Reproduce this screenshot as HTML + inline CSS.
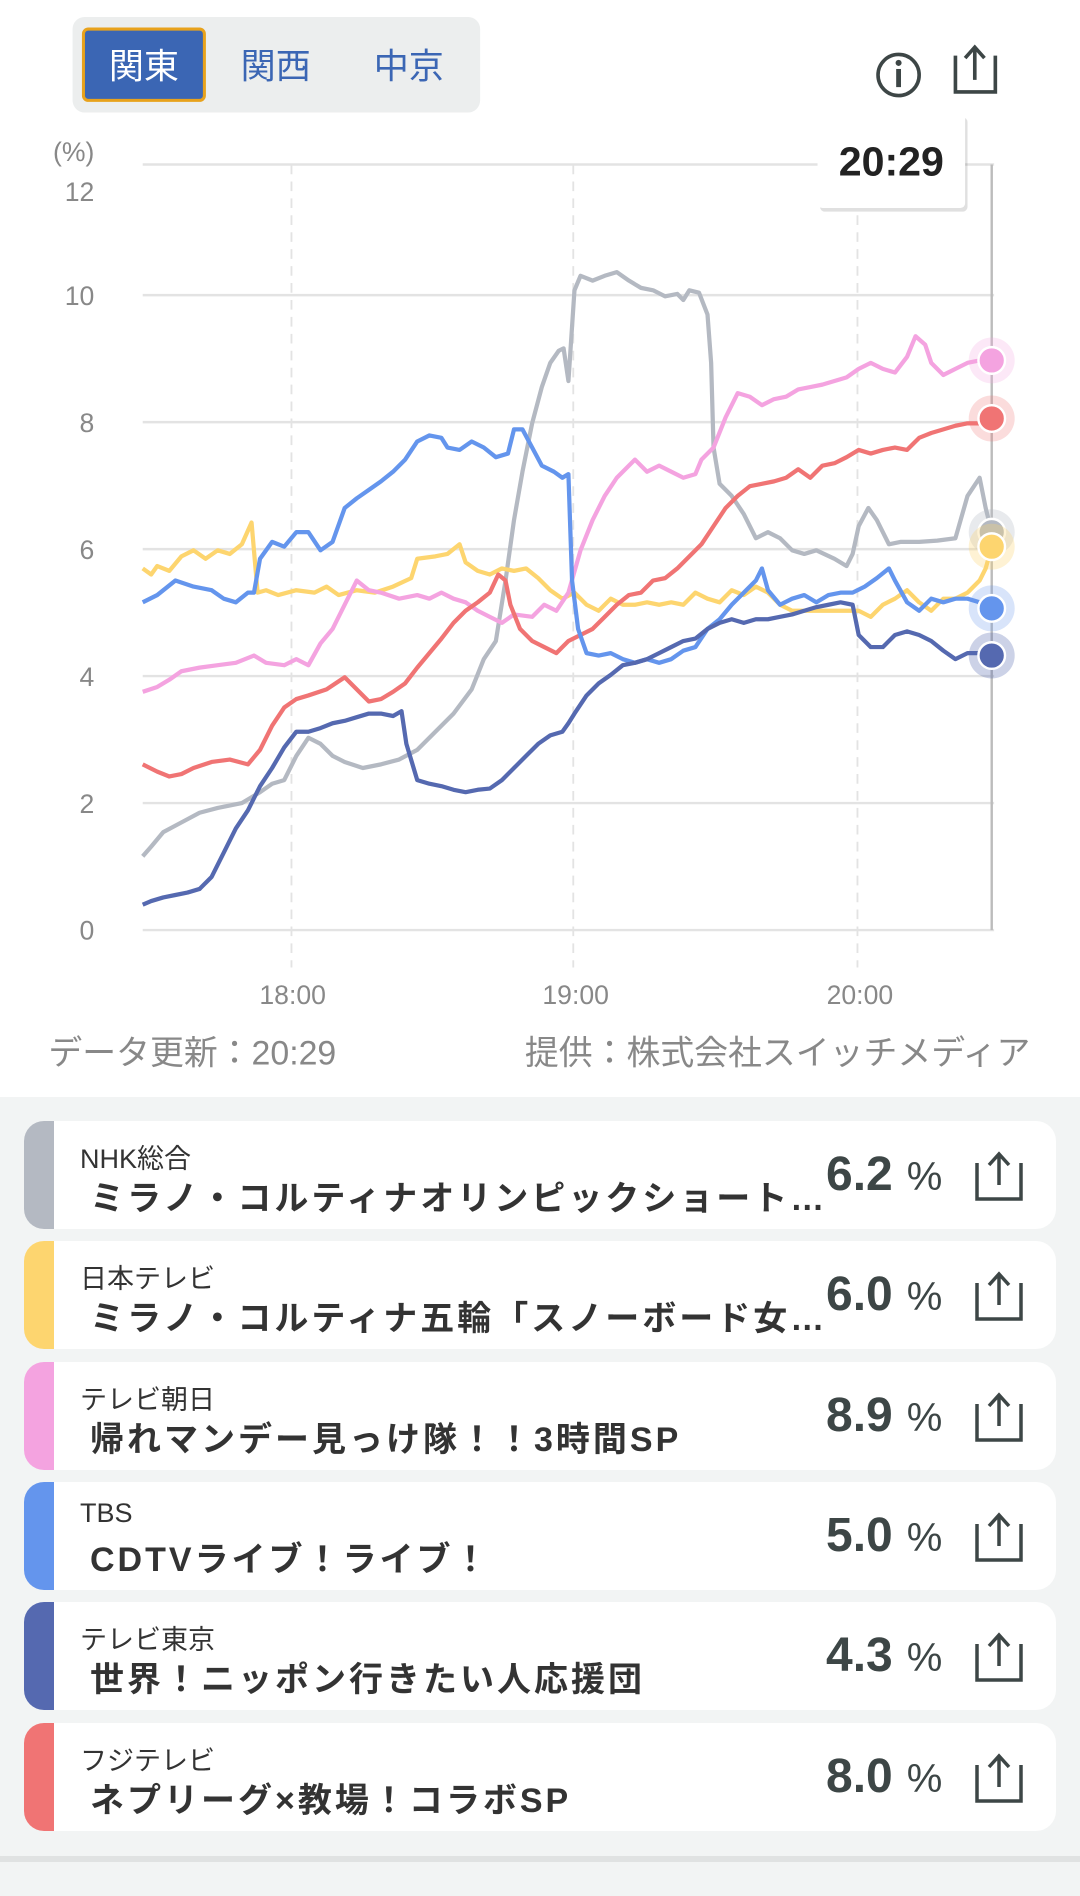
<!DOCTYPE html>
<html><head><meta charset="utf-8"><style>
body{margin:0;width:1080px;height:1896px;background:#f2f4f4;font-family:"Liberation Sans","Noto Sans CJK JP",sans-serif;overflow:hidden;position:relative}
.top{position:absolute;left:0;top:0;width:1080px;height:1097px;background:#fff}
.card{position:absolute;left:24px;width:1032px;height:108px;background:#fff;border-radius:20px;overflow:hidden}
.bar{position:absolute;left:0;top:0;bottom:0;width:30px}
.ch{position:absolute;left:56px;top:16px;font-size:27px;color:#333}
.ti{position:absolute;left:66px;top:50px;font-size:34px;font-weight:bold;color:#333;letter-spacing:3px;white-space:nowrap}
.pc{position:absolute;left:802px;top:26px;font-size:48px;font-weight:bold;color:#3d4646}
.pc span{font-size:40px;font-weight:normal;margin-left:14px}
.ic{position:absolute;left:948px;top:30px}
</style></head><body>
<div class="top">
<svg width="1080" height="1097" viewBox="0 0 893 907" xmlns="http://www.w3.org/2000/svg" font-family="Liberation Sans, Noto Sans CJK JP, sans-serif">
<rect x="60" y="14" width="337" height="79" rx="10" fill="#eceeee"/>
<rect x="69" y="24" width="100" height="59" rx="4" fill="#3b66b4" stroke="#e8a21c" stroke-width="2.5"/>
<text x="119" y="65" font-size="29" fill="#fff" text-anchor="middle">関東</text>
<text x="228" y="65" font-size="29" fill="#3b66b4" text-anchor="middle">関西</text>
<text x="338" y="65" font-size="29" fill="#3b66b4" text-anchor="middle">中京</text>
<circle cx="743" cy="62" r="17" fill="none" stroke="#3d4646" stroke-width="3"/>
<circle cx="743" cy="52" r="2.5" fill="#3d4646"/><rect x="741" y="57" width="4" height="15" fill="#3d4646"/>
<path d="M790 46 v30 h33 v-30" fill="none" stroke="#3d4646" stroke-width="3"/>
<path d="M806 66 v-26 M798 48 l8 -9 l8 9" fill="none" stroke="#3d4646" stroke-width="3"/>
<g stroke="#e3e3e3" stroke-width="2">
<line x1="118" y1="136" x2="822" y2="136"/><line x1="118" y1="244" x2="822" y2="244"/><line x1="118" y1="349" x2="822" y2="349"/><line x1="118" y1="454" x2="822" y2="454"/><line x1="118" y1="559" x2="822" y2="559"/><line x1="118" y1="664" x2="822" y2="664"/><line x1="118" y1="769" x2="822" y2="769"/>
</g>
<g stroke="#e3e3e3" stroke-width="1.5" stroke-dasharray="8,6">
<line x1="241" y1="136" x2="241" y2="800"/><line x1="474" y1="136" x2="474" y2="800"/><line x1="709" y1="136" x2="709" y2="800"/>
</g>
<line x1="820" y1="136" x2="820" y2="769" stroke="#bcbcbc" stroke-width="2"/>
<g font-size="22" fill="#888" text-anchor="end">
<text x="78" y="133">(%)</text><text x="78" y="166">12</text><text x="78" y="252">10</text><text x="78" y="357">8</text><text x="78" y="462">6</text><text x="78" y="567">4</text><text x="78" y="672">2</text><text x="78" y="777">0</text>
</g>
<g font-size="22" fill="#888" text-anchor="middle">
<text x="242" y="830">18:00</text><text x="476" y="830">19:00</text><text x="711" y="830">20:00</text>
</g>
<text x="40" y="880" font-size="28" fill="#888">データ更新：20:29</text>
<text x="852" y="880" font-size="28" fill="#888" text-anchor="end">提供：株式会社スイッチメディア</text>
<g fill="none" stroke-width="3.5" stroke-linejoin="round">
<polyline stroke="#b4b9c2" points="118,708 125,700 135,688 150,680 165,672 180,668 200,664 215,655 225,648 235,645 245,625 255,610 265,615 275,625 285,630 300,635 315,632 330,628 345,620 360,605 375,590 390,570 400,545 410,530 418,480 425,430 432,390 440,350 448,320 455,300 462,290 466,288 470,315 475,240 480,228 490,232 500,228 510,225 520,232 530,238 540,240 550,245 560,243 565,248 570,240 578,242 585,260 588,300 590,370 595,400 605,410 615,425 625,445 635,440 645,445 655,455 665,458 675,455 690,462 700,468 705,458 710,435 718,420 725,430 735,450 745,448 760,448 775,447 790,445 800,410 810,395 815,420 820,440"/>
<polyline stroke="#fdd56f" points="118,470 125,475 130,468 140,472 150,460 160,455 170,462 180,455 190,458 200,450 208,432 213,490 220,488 230,492 245,488 260,490 270,485 280,492 295,488 310,490 325,485 340,478 345,462 360,460 370,458 380,450 385,465 395,472 405,475 415,470 425,472 435,470 445,478 455,488 465,495 475,490 485,500 495,505 505,495 515,500 525,500 535,498 545,500 555,498 565,500 575,490 585,495 595,498 605,488 615,492 625,485 635,490 645,500 655,505 665,505 675,505 690,505 700,505 710,505 720,510 730,500 740,495 750,488 760,498 770,505 780,495 790,495 800,490 810,480 815,470 820,452"/>
<polyline stroke="#f4a3e0" points="118,572 130,568 140,562 150,555 165,552 180,550 195,548 210,542 220,548 235,550 245,545 255,550 265,532 275,520 285,500 295,480 305,488 315,490 330,495 345,492 355,495 365,490 375,495 385,498 395,505 405,510 415,515 425,508 440,510 450,500 460,505 470,490 480,455 490,430 500,410 510,395 520,385 525,380 535,390 545,385 555,390 565,395 575,392 580,380 590,370 600,345 610,325 620,328 630,335 640,330 650,328 660,322 670,320 680,318 690,315 700,312 710,305 720,300 730,305 740,308 750,295 757,278 765,285 770,300 780,310 790,305 800,300 810,298 820,298"/>
<polyline stroke="#f07474" points="118,632 130,638 140,642 150,640 160,635 175,630 190,628 205,632 215,620 225,600 235,585 245,578 255,575 270,570 285,560 295,570 305,580 315,578 325,572 335,565 345,552 355,540 365,528 375,515 385,505 395,498 405,490 412,475 418,480 422,500 430,520 440,530 450,535 460,540 470,530 480,525 490,520 500,510 510,500 520,492 530,490 540,480 550,478 560,470 570,460 580,450 590,435 600,420 610,410 620,402 630,400 640,398 650,395 660,388 670,395 680,385 690,383 700,378 710,372 720,375 730,372 740,370 750,372 760,362 770,358 780,355 790,352 800,350 810,350 820,345"/>
<polyline stroke="#6495ed" points="118,498 130,492 145,480 160,485 175,488 185,495 195,498 205,490 210,490 215,462 225,448 235,452 245,440 255,440 265,455 275,448 285,420 295,412 305,405 315,398 325,390 335,380 345,365 355,360 365,362 370,370 380,372 390,365 400,370 410,378 420,375 425,355 432,355 440,370 448,385 458,390 465,395 470,392 473,480 478,520 485,540 495,542 505,540 515,545 525,548 535,545 545,548 555,545 565,538 575,535 585,520 595,512 605,500 615,490 625,480 630,470 635,488 645,500 655,495 665,492 675,498 685,492 695,490 705,490 715,485 725,478 735,470 740,480 750,498 760,505 770,495 780,498 790,495 800,495 810,498 820,503"/>
<polyline stroke="#5569b0" points="118,748 125,745 135,742 145,740 155,738 165,735 175,725 185,705 195,685 205,670 215,650 225,635 235,618 245,605 255,605 265,602 275,598 285,596 295,593 305,590 315,590 325,592 332,588 336,615 345,645 355,648 365,650 375,653 385,655 395,653 405,652 415,645 425,635 435,625 445,615 455,608 465,605 470,598 475,590 485,575 495,565 505,558 515,550 525,548 535,545 545,540 555,535 565,530 575,528 585,520 595,515 605,512 615,515 625,512 635,512 645,510 655,508 665,505 675,502 685,500 695,498 705,500 710,525 720,535 730,535 740,525 750,522 760,525 770,530 780,538 790,545 800,540 810,540 820,542"/>
</g>
<g stroke="#fff" stroke-width="2">
<circle cx="820" cy="298" r="19" fill="#f4a3e0" opacity=".25" stroke="none"/><circle cx="820" cy="298" r="11" fill="#f4a3e0"/>
<circle cx="820" cy="346" r="19" fill="#f07474" opacity=".25" stroke="none"/><circle cx="820" cy="346" r="11" fill="#f07474"/>
<circle cx="820" cy="440" r="19" fill="#b4b9c2" opacity=".3" stroke="none"/><circle cx="820" cy="440" r="11" fill="#b4b9c2"/>
<circle cx="820" cy="452" r="19" fill="#fdd56f" opacity=".3" stroke="none"/><circle cx="820" cy="452" r="11" fill="#fdd56f"/>
<circle cx="820" cy="503" r="19" fill="#6495ed" opacity=".25" stroke="none"/><circle cx="820" cy="503" r="11" fill="#6495ed"/>
<circle cx="820" cy="542" r="19" fill="#5569b0" opacity=".3" stroke="none"/><circle cx="820" cy="542" r="11" fill="#5569b0"/>
</g>
<rect x="678" y="97" width="122" height="78" rx="4" fill="#000" opacity=".12"/>
<rect x="676" y="94" width="122" height="78" rx="4" fill="#fff"/>
<text x="737" y="145" font-size="34" font-weight="bold" fill="#222" text-anchor="middle">20:29</text>
</svg>
</div>
<div class="card" style="top:1121px"><div class="bar" style="background:#b4b9c2"></div><div class="ch">NHK総合</div><div class="ti">ミラノ・コルティナオリンピックショート…</div><div class="pc">6.2<span>%</span></div><svg class="ic" width="54" height="52"><path d="M5 12v36h44v-36" fill="none" stroke="#3d4646" stroke-width="3.5"/><path d="M27 34v-30M17 14l10-11 10 11" fill="none" stroke="#3d4646" stroke-width="3.5"/></svg></div>
<div class="card" style="top:1241px"><div class="bar" style="background:#fdd56f"></div><div class="ch">日本テレビ</div><div class="ti">ミラノ・コルティナ五輪「スノーボード女…</div><div class="pc">6.0<span>%</span></div><svg class="ic" width="54" height="52"><path d="M5 12v36h44v-36" fill="none" stroke="#3d4646" stroke-width="3.5"/><path d="M27 34v-30M17 14l10-11 10 11" fill="none" stroke="#3d4646" stroke-width="3.5"/></svg></div>
<div class="card" style="top:1362px"><div class="bar" style="background:#f4a3e0"></div><div class="ch">テレビ朝日</div><div class="ti">帰れマンデー見っけ隊！！3時間SP</div><div class="pc">8.9<span>%</span></div><svg class="ic" width="54" height="52"><path d="M5 12v36h44v-36" fill="none" stroke="#3d4646" stroke-width="3.5"/><path d="M27 34v-30M17 14l10-11 10 11" fill="none" stroke="#3d4646" stroke-width="3.5"/></svg></div>
<div class="card" style="top:1482px"><div class="bar" style="background:#6495ed"></div><div class="ch">TBS</div><div class="ti">CDTVライブ！ライブ！</div><div class="pc">5.0<span>%</span></div><svg class="ic" width="54" height="52"><path d="M5 12v36h44v-36" fill="none" stroke="#3d4646" stroke-width="3.5"/><path d="M27 34v-30M17 14l10-11 10 11" fill="none" stroke="#3d4646" stroke-width="3.5"/></svg></div>
<div class="card" style="top:1602px"><div class="bar" style="background:#5569b0"></div><div class="ch">テレビ東京</div><div class="ti">世界！ニッポン行きたい人応援団</div><div class="pc">4.3<span>%</span></div><svg class="ic" width="54" height="52"><path d="M5 12v36h44v-36" fill="none" stroke="#3d4646" stroke-width="3.5"/><path d="M27 34v-30M17 14l10-11 10 11" fill="none" stroke="#3d4646" stroke-width="3.5"/></svg></div>
<div class="card" style="top:1723px"><div class="bar" style="background:#f07474"></div><div class="ch">フジテレビ</div><div class="ti">ネプリーグ×教場！コラボSP</div><div class="pc">8.0<span>%</span></div><svg class="ic" width="54" height="52"><path d="M5 12v36h44v-36" fill="none" stroke="#3d4646" stroke-width="3.5"/><path d="M27 34v-30M17 14l10-11 10 11" fill="none" stroke="#3d4646" stroke-width="3.5"/></svg></div>
<div style="position:absolute;left:0;top:1856px;width:1080px;height:6px;background:#e0e2e2"></div>
</body></html>
